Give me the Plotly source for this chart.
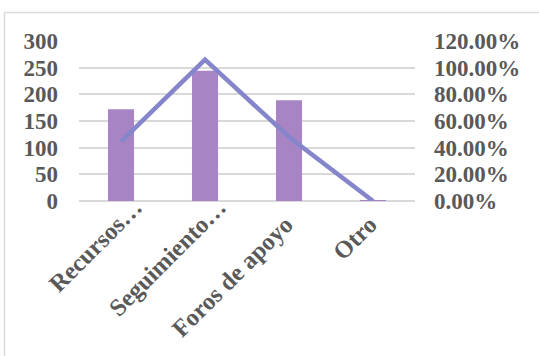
import plotly.graph_objects as go

categories = ["Recursos…", "Seguimiento…", "Foros de apoyo", "Otro"]
counts = [172, 244, 189, 1]
percent = [0.445, 1.06, 0.48, 0.0]

y_ticks = [0, 50, 100, 150, 200, 250, 300]
pct_ticks = [0, 0.2, 0.4, 0.6, 0.8, 1.0, 1.2]
pct_labels = ["0.00%", "20.00%", "40.00%", "60.00%", "80.00%", "100.00%", "120.00%"]

# untruncated names sit a little further along their slanted baseline
pad = "\u00a0" * 4
x_labels = [c if c.endswith("…") else c + pad for c in categories]

font_main = dict(family="Liberation Serif", size=23, color="#595959", weight="bold")
font_cat = dict(font_main, size=24.5)

fig = go.Figure()
fig.add_trace(go.Bar(
    x=categories, y=counts, marker=dict(color="#A984C4", line=dict(width=0)),
    width=0.31, yaxis="y",
))
fig.add_trace(go.Scatter(
    x=categories, y=percent, mode="lines",
    line=dict(color="#8585CB", width=4.5), yaxis="y2",
))

W, H = 539, 356
ml, mr, mt, mb = 79, 124, 41, 155

fig.update_layout(
    width=W, height=H,
    margin=dict(l=ml, r=mr, t=mt, b=mb, pad=0),
    paper_bgcolor="white", plot_bgcolor="white",
    showlegend=False,
    xaxis=dict(
        tickvals=categories, ticktext=x_labels,
        tickangle=-45, tickfont=font_cat, showgrid=False, showline=False,
        ticks="", ticklen=0, ticklabelshift=14, ticklabelstandoff=-14,
    ),
    yaxis=dict(
        range=[0, 300], tickvals=y_ticks, tickfont=font_main,
        showgrid=True, gridcolor="#D9D9D9", gridwidth=1.5,
        zeroline=True, zerolinecolor="#D9D9D9", zerolinewidth=1.5,
        showline=False, ticks="", ticklabelstandoff=20,
    ),
    yaxis2=dict(
        range=[0, 1.2], tickvals=pct_ticks, ticktext=pct_labels,
        tickfont=font_main, overlaying="y", side="right",
        showgrid=False, zeroline=False, showline=False, ticks="",
        ticklabelstandoff=18,
    ),
    font=dict(family="Liberation Serif"),
)

# outer chart frame (left and top edges)
x0 = (4.5 - ml) / (W - ml - mr)
y_top = (H - mb - 12.5) / (H - mt - mb)
fig.add_shape(type="line", xref="paper", yref="paper", x0=x0, x1=x0, y0=-5, y1=y_top,
              line=dict(color="#D9D9D9", width=1.5))
fig.add_shape(type="line", xref="paper", yref="paper", x0=x0, x1=5, y0=y_top, y1=y_top,
              line=dict(color="#D9D9D9", width=1.5))

fig.write_html("out.html")
